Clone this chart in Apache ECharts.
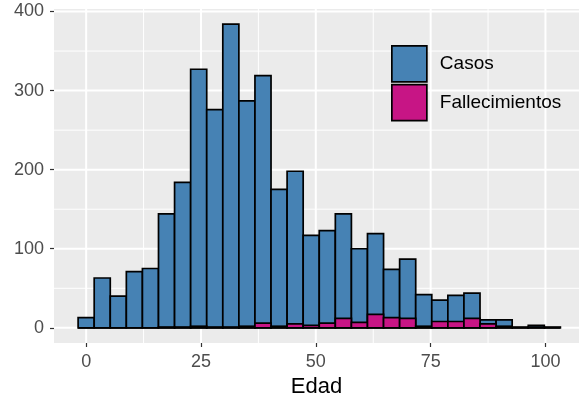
<!DOCTYPE html>
<html><head><meta charset="utf-8">
<script src="https://cdn.jsdelivr.net/npm/echarts@6/dist/echarts.min.js"></script>
<style>html,body{margin:0;padding:0;background:#fff}#c{width:584px;height:403px}</style>
</head><body><div id="c"></div>
<script>
// Bin centres (Edad) and counts
const edad = [0, 3.5, 7, 10.5, 14, 17.5, 21, 24.5, 28, 31.5, 35, 38.5, 42, 45.5, 49, 52.5, 56, 59.5, 63, 66.5, 70, 73.5, 77, 80.5, 84, 87.5, 91, 94.5, 98, 101.5];
const casos = [13, 63, 40, 71, 75, 144, 184, 327, 276, 384, 287, 319, 175, 198, 117, 123, 144, 100, 119, 74, 87, 42, 35, 41, 44, 10, 10, 1, 3, 1];
const fallecimientos = [0, 0, 0, 0, 0, 1, 1, 2, 1, 1, 2, 6, 2, 5, 3, 6, 12, 7, 17, 13, 12, 2, 8, 8, 12, 5, 2, 0, 1, 0];
const xTicks = [0, 25, 50, 75, 100];
const yTicks = [0, 100, 200, 300, 400];
const xMinor = [12.5, 37.5, 62.5, 87.5];
const yMinor = [50, 150, 250, 350];
const binWidth = 3.5;

const gridData = [];
xTicks.forEach(v => gridData.push([v, 0, 1]));
xMinor.forEach(v => gridData.push([v, 0, 0]));
yTicks.forEach(v => gridData.push([v, 1, 1]));
yMinor.forEach(v => gridData.push([v, 1, 0]));

function renderGrid(params, api) {
  const cs = params.coordSys;
  const v = api.value(0), axis = api.value(1), major = api.value(2);
  let shape;
  if (axis === 0) {
    const p = api.coord([v, 0]);
    shape = {x1: p[0], y1: cs.y, x2: p[0], y2: cs.y + cs.height};
  } else {
    const p = api.coord([0, v]);
    shape = {x1: cs.x, y1: p[1], x2: cs.x + cs.width, y2: p[1]};
  }
  return {type: 'line', shape: shape, style: {stroke: '#ffffff', lineWidth: major ? 2 : 1}};
}
function barRenderer(color) {
  return function (params, api) {
    const c = api.value(0), v = api.value(1);
    const p0 = api.coord([c - binWidth / 2, v]);
    const p1 = api.coord([c + binWidth / 2, 0]);
    return {type: 'rect',
      shape: {x: p0[0], y: p0[1], width: p1[0] - p0[0], height: p1[1] - p0[1]},
      style: {fill: color, stroke: '#000000', lineWidth: 1.7}};
  };
}
const blue = '#4682B4', pink = '#C71585';

const chart = echarts.init(document.getElementById('c'), null, {renderer: 'canvas'});
chart.setOption({
  animation: false,
  textStyle: {fontFamily: 'Liberation Sans, Arial, sans-serif'},
  grid: {left: 54, right: 5, top: 9, bottom: 60, show: true, backgroundColor: '#EBEBEB', borderWidth: 0},
  legend: {
    orient: 'vertical', left: 386, top: 40, itemWidth: 35, itemHeight: 36, itemGap: 1,
    data: [{name: 'Casos', icon: 'rect'}, {name: 'Fallecimientos', icon: 'rect'}],
    itemStyle: {borderColor: '#000', borderWidth: 1.7},
    textStyle: {fontSize: 19, color: '#000', padding: [0, 0, 0, 8]}
  },
  xAxis: {
    type: 'value', min: -7, max: 107.3,
    axisLine: {show: true, onZero: false, lineStyle: {color: 'rgba(0,0,0,0)'}},
    axisTick: {show: true, customValues: xTicks, length: 4, lineStyle: {color: '#333333', width: 1.2}},
    axisLabel: {customValues: xTicks, fontSize: 18, color: '#4D4D4D', margin: 10},
    splitLine: {show: false},
    name: 'Edad', nameLocation: 'middle', nameGap: 33,
    nameTextStyle: {fontSize: 22, color: '#000'}
  },
  yAxis: {
    type: 'value', min: -19.2, max: 403.2,
    axisLine: {show: true, onZero: false, lineStyle: {color: 'rgba(0,0,0,0)'}},
    axisTick: {show: true, customValues: yTicks, length: 4, lineStyle: {color: '#333333', width: 1.2}},
    axisLabel: {customValues: yTicks, fontSize: 18, color: '#4D4D4D', margin: 10},
    splitLine: {show: false}
  },
  series: [
    {type: 'custom', name: 'grid', z: 1, silent: true, renderItem: renderGrid, data: gridData},
    {type: 'custom', name: 'Casos', z: 2, renderItem: barRenderer(blue),
      itemStyle: {color: blue, borderColor: '#000', borderWidth: 1.7},
      data: edad.map((e, i) => [e, casos[i]])},
    {type: 'custom', name: 'Fallecimientos', z: 3, renderItem: barRenderer(pink),
      itemStyle: {color: pink, borderColor: '#000', borderWidth: 1.7},
      data: edad.map((e, i) => [e, fallecimientos[i]])}
  ]
});
</script></body></html>
